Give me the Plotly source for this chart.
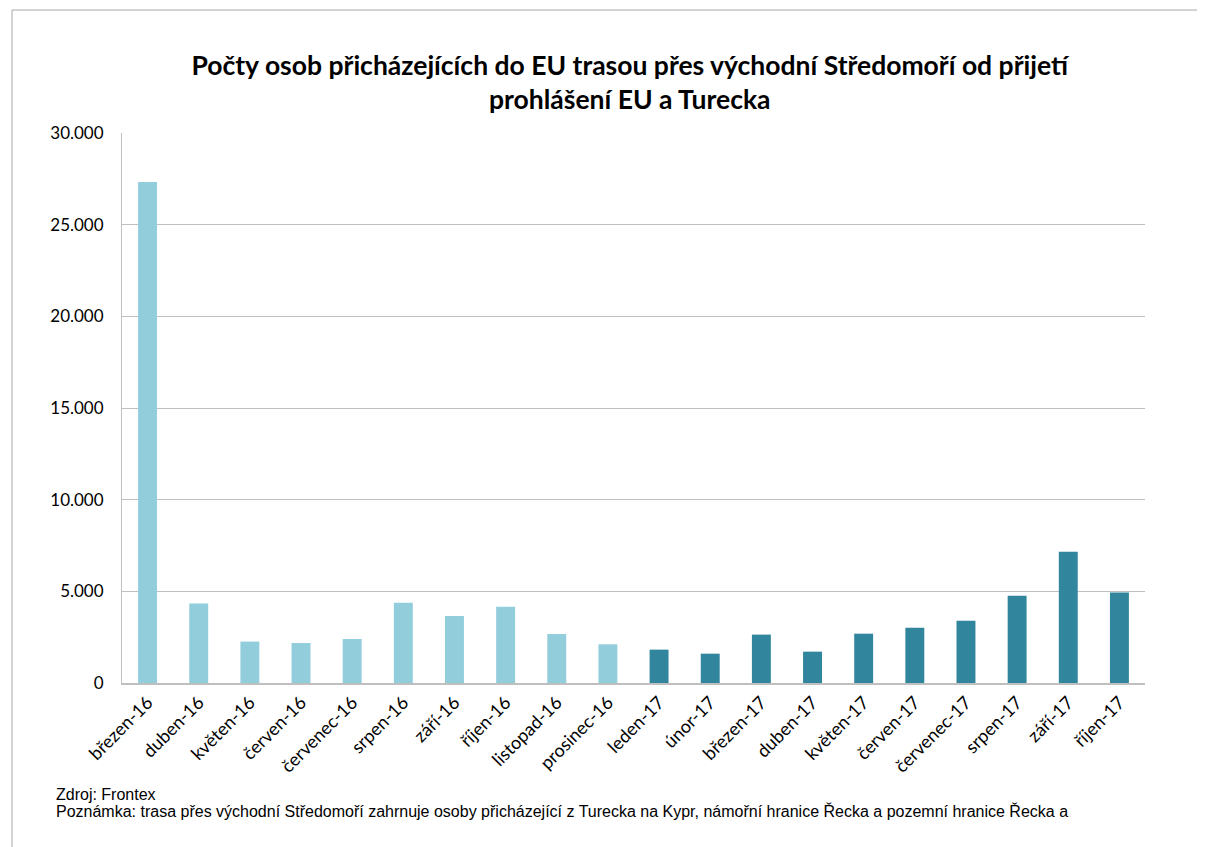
import plotly.graph_objects as go

months = [
    "březen-16", "duben-16", "květen-16", "červen-16", "červenec-16", "srpen-16",
    "září-16", "říjen-16", "listopad-16", "prosinec-16",
    "leden-17", "únor-17", "březen-17", "duben-17", "květen-17", "červen-17",
    "červenec-17", "srpen-17", "září-17", "říjen-17",
]
arrivals = [
    27330, 4330, 2260, 2180, 2400, 4380, 3660, 4160, 2670, 2110,
    1820, 1600, 2640, 1710, 2690, 3020, 3400, 4760, 7160, 4930,
]
color_2016 = "#92CDDC"
color_2017 = "#31859C"
bar_colors = [color_2016 if m.endswith("16") else color_2017 for m in months]

title = ("<b>Počty osob přicházejících do EU trasou přes východní Středomoří od přijetí"
         "<br>prohlášení EU a Turecka</b>")
source = "Zdroj: Frontex"
note = ("Poznámka: trasa přes východní Středomoří zahrnuje osoby přicházející z Turecka na Kypr, "
        "námořní hranice Řecka a pozemní hranice Řecka a")

fig = go.Figure(
    go.Bar(x=months, y=arrivals, marker=dict(color=bar_colors, line=dict(width=0)))
)

fig.update_layout(
    width=1205,
    height=847,
    margin=dict(l=114, r=68, t=125, b=172),
    paper_bgcolor="white",
    plot_bgcolor="white",
    separators=",.",
    bargap=0.63,
    showlegend=False,
    font=dict(family="Lato, Open Sans, sans-serif", size=16, color="#000"),
    title=dict(
        text=title,
        x=0.516,
        xanchor="center",
        y=0.921,
        yanchor="middle",
        font=dict(family="Lato, Open Sans, sans-serif", size=26.5, color="#000"),
    ),
)
fig.update_xaxes(
    tickangle=-45,
    tickfont=dict(size=18),
    showline=True,
    linecolor="#BFBFBF",
    linewidth=2,
    ticks="",
)
fig.update_yaxes(
    range=[0, 30000],
    dtick=5000,
    tickformat=",d",
    tickfont=dict(size=17),
    gridcolor="#BFBFBF",
    gridwidth=1,
    showline=True,
    linecolor="#BFBFBF",
    zeroline=False,
    ticks="",
    ticklabelstandoff=14,
)

foot_font = dict(family="Liberation Sans, Arial, sans-serif", size=16, color="#000")
fig.add_annotation(text=source, xref="paper", yref="paper", x=-0.0665, y=-0.203,
                   xanchor="left", yanchor="middle", showarrow=False, font=foot_font)
fig.add_annotation(text=note, xref="paper", yref="paper", x=-0.0665, y=-0.232,
                   xanchor="left", yanchor="middle", showarrow=False, font=foot_font)

# outer chart frame (top and left edges)
fig.add_shape(type="line", xref="paper", yref="paper", x0=-0.1075, x1=1.07, y0=1.2236, y1=1.2236,
              line=dict(color="#A6A6A6", width=1))
fig.add_shape(type="line", xref="paper", yref="paper", x0=-0.1075, x1=-0.1075, y0=1.2236, y1=-0.32,
              line=dict(color="#A6A6A6", width=1))

fig.write_html("out.html")
